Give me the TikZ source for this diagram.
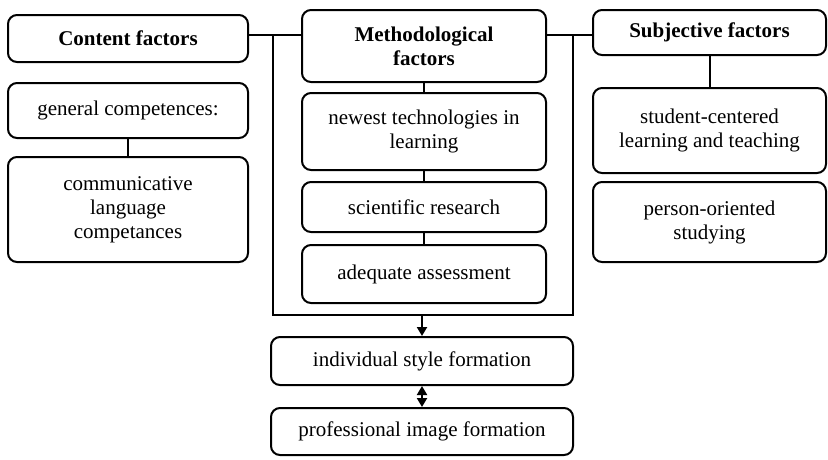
\documentclass[tikz,border=0pt]{standalone}
\usepackage{fontspec}
\setmainfont{Liberation Serif}
\usetikzlibrary{arrows.meta}
\begin{document}
\begin{tikzpicture}[x=1pt,y=-1pt,
  box/.style={draw,line width=2pt,rounded corners=9pt,align=center,inner sep=2pt,
    font=\fontsize{21}{24}\selectfont},
  bbox/.style={box,font=\fontsize{21}{24}\selectfont\bfseries},
  conn/.style={line width=2pt},
  arr/.style={conn,-{Triangle[length=9pt,width=10pt]}},
  darr/.style={conn,{Triangle[length=9pt,width=10pt]}-{Triangle[length=9pt,width=10pt]}}]
\useasboundingbox (0,0) rectangle (828,459);
% left column
\node[bbox,minimum width=240pt,minimum height=47pt] (cf) at (128,38.5) {Content factors};
\node[box,minimum width=240pt,minimum height=55pt] (gc) at (128,110.5) {general competences:};
\node[box,minimum width=240pt,minimum height=105pt] (cl) at (128,209.5) {communicative\\language\\competances};
% middle column
\node[bbox,minimum width=244pt,minimum height=72pt] (mf) at (424,46) {Methodological\\factors};
\node[box,minimum width=244pt,minimum height=77pt] (nt) at (424,131.5) {newest technologies in\\learning};
\node[box,minimum width=244pt,minimum height=50pt] (sr) at (424,207) {scientific research};
\node[box,minimum width=244pt,minimum height=58pt] (aa) at (424,274) {adequate assessment};
% right column
\node[bbox,minimum width=233pt,minimum height=45pt] (sf) at (709.5,32.5) {Subjective factors};
\node[box,minimum width=233pt,minimum height=85pt] (sc) at (709.5,130.5) {student-centered\\learning and teaching};
\node[box,minimum width=233pt,minimum height=80pt] (po) at (709.5,222) {person-oriented\\studying};
% bottom
\node[box,minimum width=302pt,minimum height=48pt] (is) at (422,361) {individual style formation};
\node[box,minimum width=302pt,minimum height=47pt] (pi) at (422,431.5) {professional image formation};
% frame
\coordinate (L) at (273,35);
\coordinate (R) at (573,35);
\coordinate (LB) at (273,315);
\coordinate (RB) at (573,315);
\coordinate (B) at (422,315);
\draw[conn] (L) -- (LB) -- (RB) -- (R);
\draw[conn] (cf.east |- L) -- (mf.west |- L);
\draw[conn] (mf.east |- R) -- (sf.west |- R);
% connectors
\draw[conn] (gc) -- (cl);
\draw[conn] (mf) -- (nt);
\draw[conn] (nt) -- (sr);
\draw[conn] (sr) -- (aa);
\draw[conn] (sf) -- (sc);
\draw[arr] (B) -- (is.north);
\draw[darr] (is) -- (pi);
\end{tikzpicture}
\end{document}
